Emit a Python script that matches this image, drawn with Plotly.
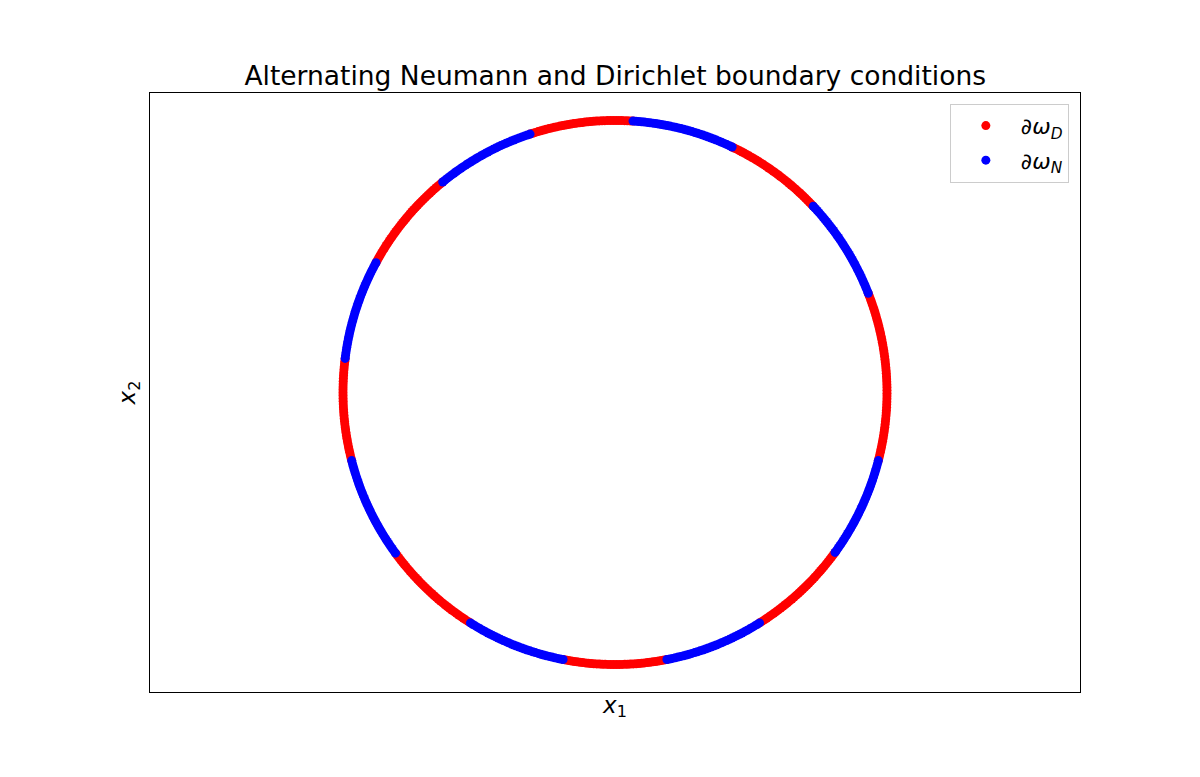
import numpy as np
import plotly.graph_objects as go

# Arc boundaries along the unit circle, in degrees (counter-clockwise from +x)
dirichlet_arcs = [(-14.5, 21.4), (43.2, 64.5), (86.2, 108.2), (129.3, 151.5),
                  (172.8, 194.5), (216.2, 237.9), (259.0, 281.0), (302.1, 324.0)]
neumann_arcs = [(21.4, 43.2), (64.5, 86.2), (108.2, 129.3), (151.5, 172.8),
                (194.5, 216.2), (237.9, 259.0), (281.0, 302.1), (324.0, 345.5)]
radius = 1.0
step_deg = 0.6


def arc_points(arcs: list[tuple[float, float]]) -> tuple[list[float], list[float]] :
    xs, ys = [], []
    for a0, a1 in arcs :
        n = max(2, int(round((a1 - a0) / step_deg)) + 1)
        t = np.radians(np.linspace(a0, a1, n))
        xs += list(radius * np.cos(t))
        ys += list(radius * np.sin(t))
    return xs, ys


fig = go.Figure()

x_d, y_d = arc_points(dirichlet_arcs)
x_n, y_n = arc_points(neumann_arcs)

fig.add_trace(go.Scatter(
    x=x_d, y=y_d, mode="markers",
    marker=dict(color="#ff0000", size=9, line=dict(width=0)),
    name="∂<i>ω</i><sub><i>D</i></sub>", legendgroup="d"
))
fig.add_trace(go.Scatter(
    x=x_n, y=y_n, mode="markers",
    marker=dict(color="#0000ff", size=9, line=dict(width=0)),
    name="∂<i>ω</i><sub><i>N</i></sub>", legendgroup="n"
))

axis_style = dict(
    showgrid=False, zeroline=False, showticklabels=False, ticks="",
    showline=True, linecolor="black", linewidth=1, mirror=True,
)

# page body has an 8px margin, so margins are shifted to keep the axes in place
fig.update_layout(
    width=1200, height=777,
    margin=dict(l=142, r=128, t=85, b=93),
    paper_bgcolor="white", plot_bgcolor="white",
    font=dict(family="DejaVu Sans", color="black", size=18),
    title=dict(
        text="Alternating Neumann and Dirichlet boundary conditions",
        x=0.506, xanchor="center", y=0.901, yanchor="bottom",
        font=dict(size=26.5)
    ),
    xaxis=dict(range=[-1.7096, 1.7096],
               title=dict(text="<i>x</i><sub>1</sub>", standoff=4, font=dict(size=23)),
               **axis_style),
    yaxis=dict(range=[-1.101, 1.101],
               title=dict(text="<i>x</i><sub>2</sub>", standoff=6, font=dict(size=23)),
               **axis_style),
    legend=dict(
        x=0.988, y=0.982, xanchor="right", yanchor="top",
        bgcolor="white", bordercolor="#cccccc", borderwidth=1,
        tracegroupgap=3, itemwidth=60, font=dict(size=22)
    ),
    showlegend=True,
)

fig.write_html("out.html")
